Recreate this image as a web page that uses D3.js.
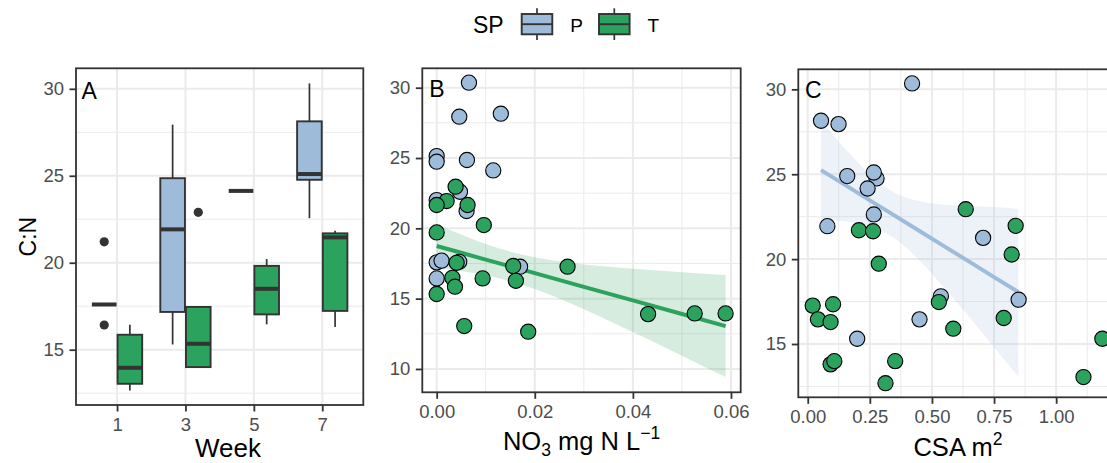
<!DOCTYPE html>
<html><head><meta charset="utf-8">
<script src="https://cdn.jsdelivr.net/npm/d3@7"></script>
<style>
body{margin:0;background:#fff;}
svg{display:block;font-family:"Liberation Sans",Arial,sans-serif;}
</style></head>
<body><svg id="chart" width="1107" height="463"></svg>
<script>
// ---------------- DATA ----------------
const species = ["P", "T"];
const weeks = ["1", "3", "5", "7"];
// Panel A box summaries (C:N by week)
const pLow    = [17.6, 15.3, 24.13, 22.56];
const pQ1     = [17.6, 17.17, 24.13, 24.77];
const pMed    = [17.6, 21.92, 24.13, 25.1];
const pQ3     = [17.6, 24.86, 24.13, 28.13];
const pHigh   = [17.6, 27.94, 24.13, 30.31];
const tLow    = [12.65, 14.0, 16.46, 16.3];
const tQ1     = [13.04, 14.0, 17.03, 17.23];
const tMed    = [13.96, 15.34, 18.5, 21.46];
const tQ3     = [15.86, 17.46, 19.82, 21.69];
const tHigh   = [16.44, 17.46, 20.21, 21.84];
const pOutWeek = ["1", "1"];
const pOutVal  = [21.2, 16.42];
const tOutWeek = ["3"];
const tOutVal  = [22.9];

// Panel B: NO3 vs C:N
const bPx = [0.00658, 0.00461, 0.01308, 0, 0, 0.00617, 0.01153, 0.00475, 0, 0.0061, 0, 0.001, 0, 0.0046, 0.017];
const bPy = [30.36, 27.94, 28.15, 25.14, 24.74, 24.86, 24.12, 22.6, 22.01, 21.23, 17.58, 17.7, 16.44, 17.62, 17.27];
const bTx = [0.00386, 0.00203, 0, 0.0063, 0.00961, 0, 0.02668, 0.0156, 0.00407, 0.0032, 0.00937, 0.01615, 0.00373, 0, 0.0431, 0.0526, 0.0589, 0.00562, 0.01866];
const bTy = [22.96, 21.94, 21.66, 21.66, 20.23, 19.71, 17.27, 17.32, 17.55, 16.48, 16.44, 16.27, 15.85, 15.33, 13.9, 13.95, 13.95, 13.05, 12.65];
// Panel B fitted line + confidence band (T)
const bFitX  = [0, 0.005, 0.01, 0.015, 0.02, 0.03, 0.04, 0.05, 0.0589];
const bFitY  = [18.74, 18.26, 17.77, 17.29, 16.81, 15.84, 14.88, 13.91, 13.05];
const bFitHi = [20.31, 19.56, 18.89, 18.34, 17.94, 17.43, 17.13, 16.88, 16.68];
const bFitLo = [17.17, 16.96, 16.66, 16.24, 15.68, 14.25, 12.63, 10.94, 9.42];

// Panel C: CSA vs C:N
const cPx = [0.42, 0.0535, 0.124, 0.159, 0.277, 0.266, 0.241, 0.266, 0.079, 0.706, 0.536, 0.849, 0.45, 0.199];
const cPy = [30.35, 28.15, 27.95, 24.89, 24.75, 25.1, 24.16, 22.63, 21.94, 21.25, 17.81, 17.61, 16.45, 15.31];
const cTx = [0.636, 0.837, 0.206, 0.263, 0.821, 0.286, 0.020, 0.102, 0.528, 0.041, 0.092, 0.789, 0.586, 1.186, 0.092, 0.107, 0.352, 1.11, 0.313];
const cTy = [22.94, 21.96, 21.70, 21.64, 20.27, 19.73, 17.26, 17.34, 17.47, 16.45, 16.29, 16.53, 15.9, 15.31, 13.8, 13.99, 13.99, 13.05, 12.69];
// Panel C fitted line + confidence band (P)
const cFitX  = [0.0535, 0.15, 0.25, 0.35, 0.45, 0.55, 0.65, 0.75, 0.848];
const cFitY  = [25.24, 24.37, 23.46, 22.56, 21.66, 20.75, 19.85, 18.94, 18.06];
const cFitHi = [28.14, 26.51, 24.99, 23.91, 23.41, 23.20, 23.11, 23.07, 22.95];
const cFitLo = [22.34, 22.23, 21.93, 21.21, 19.92, 18.30, 16.59, 14.81, 13.06];

const yTicksA = [15, 20, 25, 30];
const yTicksB = [10, 15, 20, 25, 30];
const xTicksB = [0, 0.02, 0.04, 0.06];
const xTicksC = [0, 0.25, 0.5, 0.75, 1.0];

// ---------------- STYLE ----------------
const colP = "#9ebcda", colT = "#2ca25f";
const dark = "#333333", tickTxt = "#4d4d4d", grid = "#ebebeb";
const tickFont = 18.5, titleFont = 23, xTitleFont = 25.5;
const svg = d3.select("#chart");

function panel(x0, y0, x1, y1, xs, ys, xMajor, xMinor, yMajor, yMinor) {
  const g = svg.append("g");
  g.append("rect").attr("x", x0).attr("y", y0).attr("width", x1 - x0).attr("height", y1 - y0).attr("fill", "#fff");
  const gg = g.append("g");
  yMinor.forEach(v => gg.append("line").attr("x1", x0).attr("x2", x1).attr("y1", ys(v)).attr("y2", ys(v)).attr("stroke", grid).attr("stroke-width", 1));
  xMinor.forEach(v => gg.append("line").attr("y1", y0).attr("y2", y1).attr("x1", xs(v)).attr("x2", xs(v)).attr("stroke", grid).attr("stroke-width", 1));
  yMajor.forEach(v => gg.append("line").attr("x1", x0).attr("x2", x1).attr("y1", ys(v)).attr("y2", ys(v)).attr("stroke", grid).attr("stroke-width", 2));
  xMajor.forEach(v => gg.append("line").attr("y1", y0).attr("y2", y1).attr("x1", xs(v)).attr("x2", xs(v)).attr("stroke", grid).attr("stroke-width", 2));
  return g;
}
function border(x0, y0, x1, y1) {
  svg.append("rect").attr("x", x0).attr("y", y0).attr("width", x1 - x0).attr("height", y1 - y0)
    .attr("fill", "none").attr("stroke", dark).attr("stroke-width", 1.8);
}
function styleAxis(g) {
  g.select(".domain").remove();
  g.selectAll(".tick line").attr("stroke", dark).attr("stroke-width", 1.8);
  g.selectAll(".tick text").attr("fill", tickTxt).attr("font-size", tickFont).attr("font-family", "Liberation Sans, Arial, sans-serif");
}
function axes(xs, ys, x0, y1, xt, yt, xfmt, yfmt) {
  const gx = svg.append("g").attr("transform", `translate(0,${y1})`)
    .call(d3.axisBottom(xs).tickValues(xt).tickFormat(xfmt).tickSize(6.5).tickPadding(6.5));
  styleAxis(gx);
  const gy = svg.append("g").attr("transform", `translate(${x0},0)`)
    .call(d3.axisLeft(ys).tickValues(yt).tickFormat(yfmt).tickSize(6.5).tickPadding(5.5));
  styleAxis(gy);
}
function tag(x, y, t) {
  svg.append("text").attr("x", x).attr("y", y).attr("font-size", titleFont).attr("fill", "#000").text(t);
}

// ---------------- PANEL A ----------------
(function () {
  const x0 = 76, x1 = 363.3, y0 = 68.3, y1 = 405;
  const xs = d3.scaleLinear().domain([0.4, 4.6]).range([x0, x1]);
  const ys = d3.scaleLinear().domain([11.82, 31.18]).range([y1, y0]);
  panel(x0, y0, x1, y1, xs, ys, [1, 2, 3, 4], [], yTicksA, [12.5, 17.5, 22.5, 27.5]);
  const bw = 0.36, off = 0.1875;
  const sets = [
    {c: colP, o: -off, lo: pLow, q1: pQ1, md: pMed, q3: pQ3, hi: pHigh, ow: pOutWeek, ov: pOutVal},
    {c: colT, o: off, lo: tLow, q1: tQ1, md: tMed, q3: tQ3, hi: tHigh, ow: tOutWeek, ov: tOutVal}
  ];
  sets.forEach(s => {
    weeks.forEach((w, i) => {
      const cx = i + 1 + s.o;
      svg.append("line").attr("x1", xs(cx)).attr("x2", xs(cx)).attr("y1", ys(s.hi[i])).attr("y2", ys(s.q3[i])).attr("stroke", dark).attr("stroke-width", 1.7);
      svg.append("line").attr("x1", xs(cx)).attr("x2", xs(cx)).attr("y1", ys(s.q1[i])).attr("y2", ys(s.lo[i])).attr("stroke", dark).attr("stroke-width", 1.7);
      svg.append("rect").attr("x", xs(cx - bw / 2)).attr("width", xs(cx + bw / 2) - xs(cx - bw / 2))
        .attr("y", ys(s.q3[i])).attr("height", ys(s.q1[i]) - ys(s.q3[i]))
        .attr("fill", s.c).attr("stroke", dark).attr("stroke-width", 1.9);
      svg.append("line").attr("x1", xs(cx - bw / 2)).attr("x2", xs(cx + bw / 2)).attr("y1", ys(s.md[i])).attr("y2", ys(s.md[i]))
        .attr("stroke", dark).attr("stroke-width", 4);
    });
    s.ow.forEach((w, j) => {
      const cx = weeks.indexOf(w) + 1 + s.o;
      svg.append("circle").attr("cx", xs(cx)).attr("cy", ys(s.ov[j])).attr("r", 4.6).attr("fill", dark);
    });
  });
  border(x0, y0, x1, y1);
  axes(xs, ys, x0, y1, [1, 2, 3, 4], yTicksA, d => weeks[d - 1], d => d);
  tag(81.5, 99.3, "A");
  svg.append("text").attr("x", 228).attr("y", 457).attr("text-anchor", "middle").attr("font-size", 26).text("Week");
  svg.append("text").attr("transform", "translate(36,236.6) rotate(-90)").attr("text-anchor", "middle").attr("font-size", titleFont).text("C:N");
})();

function scatter(xs, ys, px, py, tx, ty) {
  px.forEach((v, i) => svg.append("circle").attr("cx", xs(v)).attr("cy", ys(py[i])).attr("r", 7.6).attr("fill", colP).attr("stroke", "#000").attr("stroke-width", 1.1));
  tx.forEach((v, i) => svg.append("circle").attr("cx", xs(v)).attr("cy", ys(ty[i])).attr("r", 7.6).attr("fill", colT).attr("stroke", "#000").attr("stroke-width", 1.1));
}
function smooth(xs, ys, fx, fy, hi, lo, col) {
  const area = d3.area().x((d, i) => xs(fx[i])).y0((d, i) => ys(lo[i])).y1((d, i) => ys(hi[i])).curve(d3.curveMonotoneX);
  svg.append("path").datum(fx).attr("d", area).attr("fill", col).attr("fill-opacity", 0.2);
  const line = d3.line().x((d, i) => xs(fx[i])).y((d, i) => ys(fy[i]));
  svg.append("path").datum(fx).attr("d", line).attr("fill", "none").attr("stroke", col).attr("stroke-width", 4);
}

// ---------------- PANEL B ----------------
(function () {
  const x0 = 422.3, x1 = 740.7, y0 = 68.3, y1 = 392.3;
  const xs = d3.scaleLinear().domain([-0.00293, 0.06198]).range([x0, x1]);
  const ys = d3.scaleLinear().domain([8.34, 31.38]).range([y1, y0]);
  panel(x0, y0, x1, y1, xs, ys, xTicksB, [0.01, 0.03, 0.05], yTicksB, [12.5, 17.5, 22.5, 27.5]);
  smooth(xs, ys, bFitX, bFitY, bFitHi, bFitLo, colT);
  scatter(xs, ys, bPx, bPy, bTx, bTy);
  border(x0, y0, x1, y1);
  axes(xs, ys, x0, y1, xTicksB, yTicksB, d3.format(".2f"), d => d);
  tag(429.3, 96.7, "B");
  const t = svg.append("text").attr("x", 581.5).attr("y", 450).attr("text-anchor", "middle").attr("font-size", xTitleFont);
  t.append("tspan").text("NO");
  t.append("tspan").attr("font-size", 17.5).attr("dy", 5.5).text("3");
  t.append("tspan").attr("dy", -5.5).text(" mg N L");
  t.append("tspan").attr("font-size", 17.5).attr("dy", -11).text("\u22121");
})();

// ---------------- PANEL C ----------------
(function () {
  const x0 = 798.3, x1 = 1116, y0 = 69.3, y1 = 397.3;
  const xs = d3.scaleLinear().domain([-0.038, 1.238]).range([x0, 798.3 + 1.276 * 248.4]);
  const ys = d3.scaleLinear().domain([11.86, 31.18]).range([y1, y0]);
  panel(x0, y0, x1, y1, xs, ys, [0, 0.25, 0.5, 0.75, 1.0], [0.125, 0.375, 0.625, 0.875, 1.125], yTicksA, [12.5, 17.5, 22.5, 27.5]);
  smooth(xs, ys, cFitX, cFitY, cFitHi, cFitLo, colP);
  scatter(xs, ys, cPx, cPy, cTx, cTy);
  border(x0, y0, x1, y1);
  axes(xs, ys, x0, y1, xTicksC, yTicksA, d3.format(".2f"), d => d);
  tag(805, 97.7, "C");
  const t = svg.append("text").attr("x", 958).attr("y", 456).attr("text-anchor", "middle").attr("font-size", xTitleFont);
  t.append("tspan").text("CSA m");
  t.append("tspan").attr("font-size", 17.5).attr("dy", -11).text("2");
})();

// ---------------- LEGEND ----------------
(function () {
  svg.append("text").attr("x", 473).attr("y", 33).attr("font-size", titleFont).text("SP");
  const keyX = [521.7, 599];
  species.forEach((s, i) => {
    const x = keyX[i], w = 30.6, cx = x + w / 2;
    const col = i === 0 ? colP : colT;
    svg.append("line").attr("x1", cx).attr("x2", cx).attr("y1", 8.3).attr("y2", 40).attr("stroke", dark).attr("stroke-width", 1.7);
    svg.append("rect").attr("x", x).attr("y", 14).attr("width", w).attr("height", 20.3).attr("fill", col).attr("stroke", dark).attr("stroke-width", 1.9);
    svg.append("line").attr("x1", x).attr("x2", x + w).attr("y1", 24.2).attr("y2", 24.2).attr("stroke", dark).attr("stroke-width", 1.9);
    svg.append("text").attr("x", x + 48.5).attr("y", 32).attr("font-size", 19).text(s);
  });
})();
</script></body></html>
